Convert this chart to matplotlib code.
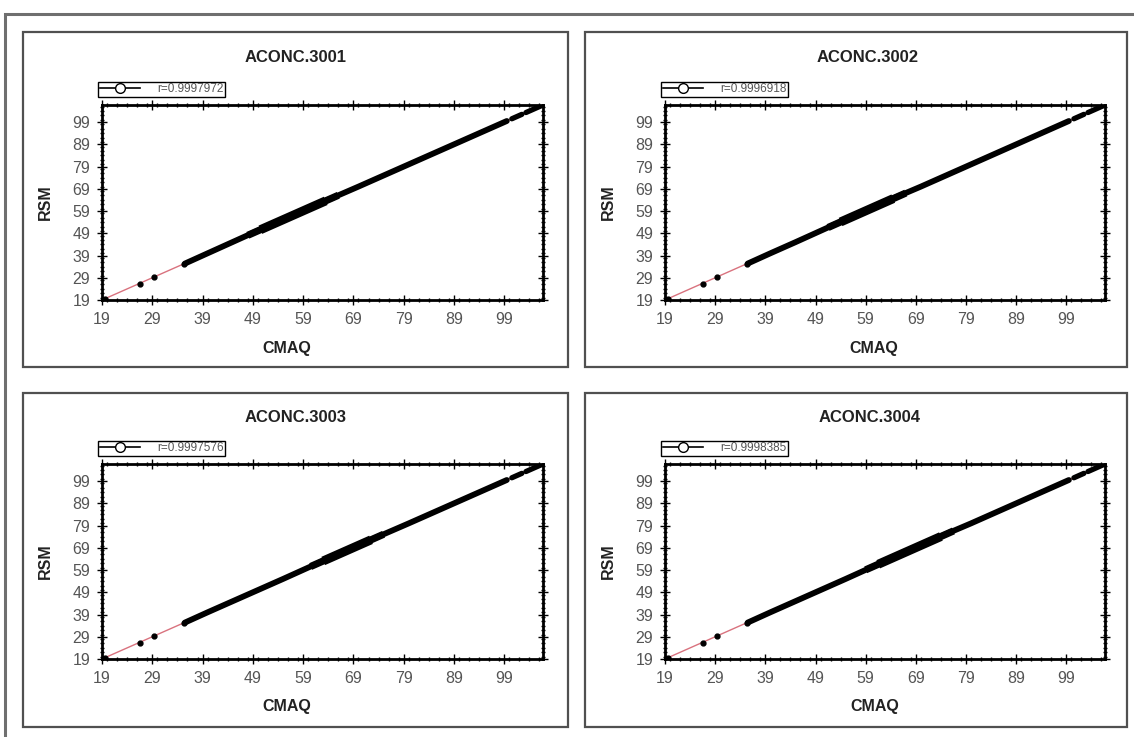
import matplotlib
matplotlib.use("Agg")
import matplotlib.pyplot as plt
from matplotlib.lines import Line2D
from matplotlib.patches import Rectangle
from matplotlib.ticker import MultipleLocator

plt.rcParams['font.family'] = ['Liberation Sans', 'DejaVu Sans']

titles = ["ACONC.3001", "ACONC.3002", "ACONC.3003", "ACONC.3004"]
r_labels = ["r=0.9997972", "r=0.9996918", "r=0.9997576", "r=0.9998385"]
xticks = [19, 29, 39, 49, 59, 69, 79, 89, 99]

# isolated low-concentration points (same in every panel): CMAQ, RSM
low_cmaq = [19.2, 19.6, 26.5, 29.4, 35.3]
low_rsm = [19.0, 19.4, 26.4, 29.3, 35.2]

# main dense band of each panel: CMAQ (x) and RSM (y)
cmaq_1 = [35.5, 40, 45, 50, 55, 60, 65, 70, 75, 80, 85, 90, 95, 99.5]
rsm_1  = [35.4, 40, 45.1, 50.2, 55.2, 60.2, 65.1, 70, 75, 80, 85, 90, 95, 99.5]
cmaq_2 = [35.5, 40, 45, 50, 55, 60, 65, 70, 75, 80, 85, 90, 95, 99.5]
rsm_2  = [35.4, 40, 45, 50.1, 55.2, 60.2, 65.2, 70, 75, 80, 85, 90, 95, 99.5]
cmaq_3 = [35.5, 40, 45, 50, 55, 60, 65, 70, 75, 80, 85, 90, 95, 99.5]
rsm_3  = [35.4, 40, 45, 50, 55, 60.1, 65.2, 70.2, 75.1, 80, 85, 90, 95, 99.5]
cmaq_4 = [35.5, 40, 45, 50, 55, 60, 65, 70, 75, 80, 85, 90, 95, 99.5]
rsm_4  = [35.4, 40, 45, 50, 55, 60.1, 65.2, 70.2, 75.2, 80, 85, 90, 95, 99.5]

# thicker (denser) stretch of the band in each panel: CMAQ start/end
dense_1 = [50.5, 63.5]
dense_2 = [54.0, 64.5]
dense_3 = [63.0, 72.5]
dense_4 = [61.5, 74.0]

# sparse top end of the band (short segments): CMAQ start/end pairs
top_segments = [[100.5, 102.5], [103.3, 106.5]]

cmaq_all = [cmaq_1, cmaq_2, cmaq_3, cmaq_4]
rsm_all = [rsm_1, rsm_2, rsm_3, rsm_4]
dense_all = [dense_1, dense_2, dense_3, dense_4]

axis_min, axis_max = 19, 106.7

W, H = 1134, 737
fig = plt.figure(figsize=(W / 100, H / 100), dpi=100)

def fx(px):
    return px / W

def fy(py):
    return 1 - py / H

# outer frame
fig.patches.append(Rectangle((fx(5), fy(760)), fx(1160), fy(14) - fy(760),
                             transform=fig.transFigure, fill=False,
                             edgecolor='#6f6f6f', lw=2.2))

panel_boxes = [(23, 32, 568, 367), (585, 32, 1127, 367),
               (23, 393, 568, 727), (585, 393, 1127, 727)]
axes_px = [(102, 105, 543, 300), (665, 105, 1105, 300),
           (102, 464, 543, 659), (665, 464, 1105, 659)]
title_x = [296, 868, 296, 870]
cmaq_x = [287, 874, 287, 875]
rsm_x = [45, 608, 45, 608]

for i in range(4):
    x0, y0, x1, y1 = panel_boxes[i]
    fig.patches.append(Rectangle((fx(x0), fy(y1)), fx(x1 - x0), fy(y0) - fy(y1),
                                 transform=fig.transFigure, fill=False,
                                 edgecolor='#505050', lw=1.6))
    ax0, ay0, ax1, ay1 = axes_px[i]
    ax = fig.add_axes([fx(ax0), fy(ay1), fx(ax1 - ax0), fy(ay0) - fy(ay1)])
    ax.plot([axis_min, axis_max], [axis_min, axis_max], color='#d9727e', lw=1.0, zorder=2)
    ax.plot(low_cmaq, low_rsm, linestyle='none', marker='o', markersize=3.5,
            color='black', zorder=3)
    ax.plot(cmaq_all[i], rsm_all[i], color='black', lw=4.2,
            solid_capstyle='round', zorder=3)
    d0, d1 = dense_all[i]
    ax.plot([d0 - 2.5, d1 + 2.5], [d0 - 2.4, d1 + 2.6], color='black', lw=5.2,
            solid_capstyle='butt', zorder=3)
    ax.plot([d0, d1], [d0 + 0.1, d1 + 0.1], color='black', lw=6.5,
            solid_capstyle='butt', zorder=3)
    for s0, s1 in top_segments:
        ax.plot([s0, s1], [s0, s1], color='black', lw=3.8,
                solid_capstyle='round', zorder=3)
    ax.set_xlim(axis_min, axis_max)
    ax.set_ylim(axis_min, axis_max)
    ax.set_xticks(xticks)
    ax.set_yticks(xticks)
    ax.xaxis.set_minor_locator(MultipleLocator(2))
    ax.yaxis.set_minor_locator(MultipleLocator(2))
    ax.tick_params(which='both', direction='inout', top=True, right=True,
                   labelsize=11.5, labelcolor='#555555', color='black', width=1.0)
    ax.tick_params(which='major', length=7, pad=5)
    ax.tick_params(which='minor', length=3.5)
    for sp in ax.spines.values():
        sp.set_linewidth(2.0)
    handle = Line2D([], [], color='black', lw=1.2, marker='o', markersize=7,
                    markerfacecolor='white', markeredgecolor='black')
    leg = ax.legend([handle], [r_labels[i]], loc='lower left',
                    bbox_to_anchor=(-0.008, 1.04), fontsize=8.5, fancybox=False,
                    edgecolor='black', framealpha=1, handlelength=3.4,
                    borderpad=0.15, handletextpad=1.4, borderaxespad=0)
    leg.get_frame().set_linewidth(1.0)
    for t in leg.get_texts():
        t.set_color('#555555')
    fig.text(fx(title_x[i]), fy(y0 + 25), titles[i], ha='center', va='center',
             fontsize=12, fontweight='bold', color='#222222')
    fig.text(fx(cmaq_x[i]), fy(ay1 + 48), "CMAQ", ha='center', va='center',
             fontsize=11.5, fontweight='bold', color='#222222')
    fig.text(fx(rsm_x[i]), fy((ay0 + ay1) / 2), "RSM", ha='center', va='center',
             rotation=90, fontsize=11.5, fontweight='bold', color='#222222')

fig.savefig("out.png", dpi=100, facecolor='white')
